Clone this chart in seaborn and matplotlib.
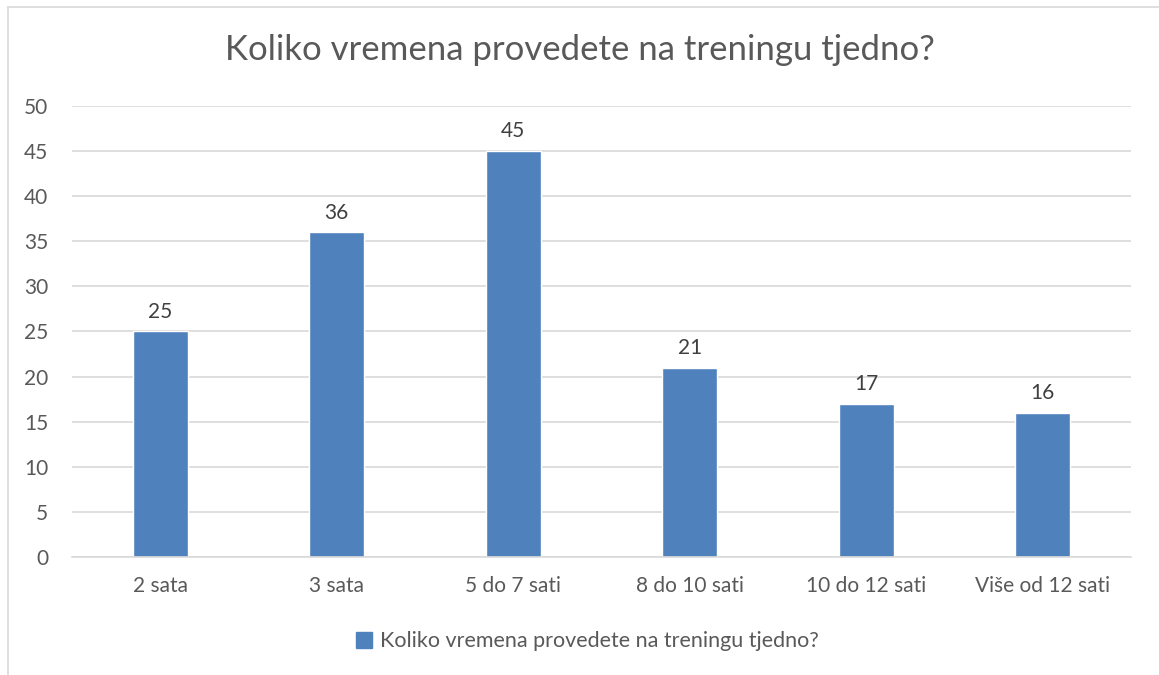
import matplotlib
matplotlib.use("Agg")
import matplotlib.pyplot as plt
import seaborn as sns
import pandas as pd
from matplotlib.patches import Patch
from matplotlib.lines import Line2D

# ============ Data ============
categories = ["2 sata", "3 sata", "5 do 7 sati", "8 do 10 sati", "10 do 12 sati", "Više od 12 sati"]
values = [25, 36, 45, 21, 17, 16]
series_name = "Koliko vremena provedete na treningu tjedno?"
title = "Koliko vremena provedete na treningu tjedno?"
y_ticks = list(range(0, 51, 5))

# ============ Style ============
BAR = "#4F81BD"
TEXT = "#595959"
GRID = "#D9D9D9"

sns.set_style("white")
plt.rcParams["font.family"] = ["Lato", "DejaVu Sans"]

df = pd.DataFrame({"cat": categories, "val": values})

fig = plt.figure(figsize=(11.59, 6.75), dpi=100)
ax = fig.add_axes([0.0621, 0.1748, 0.9137, 0.6682])

sns.barplot(data=df, x="cat", y="val", color=BAR, width=0.31, saturation=1, ax=ax)

for i, v in enumerate(values):
    ax.annotate(str(v), (i, v), xytext=(0, 7), textcoords="offset points",
                ha="center", va="bottom", fontsize=15, color="#404040")

ax.set_ylim(0, 50)
ax.set_yticks(y_ticks)
ax.set_xlim(-0.5, len(categories) - 0.5)
ax.yaxis.grid(True, color=GRID, linewidth=1.2)
ax.set_axisbelow(True)
for s in ["top", "right", "left"]:
    ax.spines[s].set_visible(False)
ax.spines["bottom"].set_color(GRID)
ax.spines["bottom"].set_linewidth(1.2)
ax.tick_params(axis="both", length=0, labelsize=15, labelcolor=TEXT)
ax.tick_params(axis="x", pad=14)
ax.tick_params(axis="y", pad=17)
ax.set_xlabel("")
ax.set_ylabel("")

fig.text(0.5, 0.926, title, ha="center", va="center", fontsize=25, color=TEXT)

handle = Patch(facecolor=BAR, edgecolor=BAR)
fig.legend([handle], [series_name], loc="center", bbox_to_anchor=(0.507, 0.05),
           frameon=False, fontsize=15.5, labelcolor=TEXT, handlelength=0.75,
           handleheight=0.75, handletextpad=0.35)

# chart border (top / left visible in the crop)
fig.add_artist(Line2D([0.0069, 1.0], [0.9896, 0.9896], color=GRID, linewidth=1.2,
                      transform=fig.transFigure))
fig.add_artist(Line2D([0.0069, 0.0069], [0.0, 0.9896], color=GRID, linewidth=1.2,
                      transform=fig.transFigure))

fig.savefig("out.png", dpi=100)
